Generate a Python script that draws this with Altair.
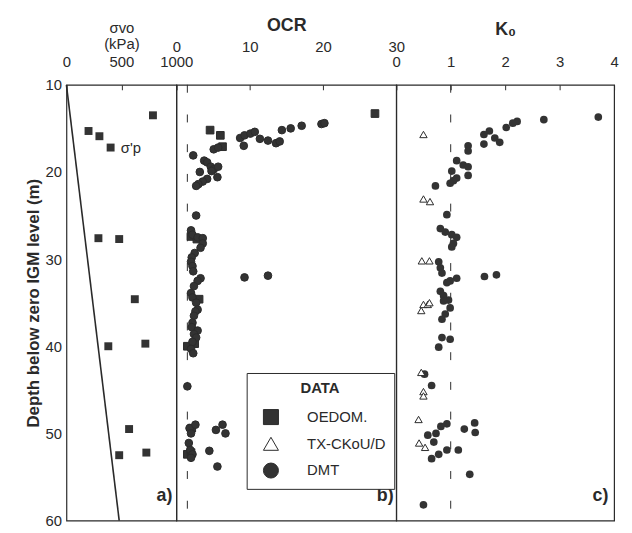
import altair as alt
import pandas as pd

# ---------------- data ----------------
# panel a: effective vertical stress line and oedometer preconsolidation stress
line_depth = [10, 60]
line_sigma_vo = [0, 480]

oed_depth = [13.5, 15.3, 15.9, 17.2, 27.6, 27.7, 34.6, 40.0, 39.7, 49.5, 52.5, 52.2]
oed_sigma_p = [787, 201, 300, 402, 291, 480, 622, 381, 718, 570, 480, 727]

# panel b: OCR
ocr_oed_depth = [13.3, 15.2, 15.8, 17.1, 27.4, 27.7, 34.6, 40.0, 39.7, 49.4, 52.4, 52.2]
ocr_oed = [27.1, 4.6, 6.0, 6.3, 2.0, 2.8, 3.1, 1.5, 2.5, 2.1, 1.5, 2.0]

ocr_dmt_depth = [18.1, 16.1, 15.8, 15.6, 15.4, 17.0, 16.2, 16.4, 16.7, 16.5, 15.2, 15.0, 14.7, 14.5, 14.4,
                 17.4, 17.2, 18.7, 18.9, 19.4, 19.7, 19.4, 19.9, 20.0, 20.6, 20.8, 21.1, 21.4, 21.6,
                 25.0, 26.7, 27.2, 27.5, 27.6, 28.2, 28.7, 29.3, 29.8, 30.3, 30.8, 31.4, 32.2, 32.5, 33.1,
                 32.1, 31.9, 33.9, 34.4, 35.0, 35.8, 36.0, 36.5, 37.3, 37.8, 38.2, 38.6, 39.0, 39.5, 40.3,
                 40.8, 44.6, 49.4, 49.0, 50.0, 51.1, 51.9, 52.4, 52.8, 49.6, 49.0, 50.0, 52.0, 53.8]
ocr_dmt = [2.3, 8.7, 9.3, 10.1, 10.7, 9.2, 11.4, 12.5, 13.6, 14.1, 14.4, 15.6, 17.1, 19.8, 20.2,
           5.1, 5.7, 3.8, 4.2, 4.7, 5.1, 5.7, 4.8, 3.2, 5.6, 4.2, 3.6, 3.0, 2.7,
           2.7, 2.0, 2.2, 2.9, 3.6, 3.6, 3.3, 2.5, 2.1, 2.0, 2.2, 2.3, 3.3, 2.9, 2.4,
           9.3, 12.5, 2.0, 2.2, 2.7, 2.9, 2.6, 2.4, 2.2, 2.1, 2.9, 2.4, 2.7, 2.2, 2.0,
           2.3, 1.5, 1.8, 2.6, 2.0, 1.7, 1.9, 2.2, 2.0, 5.4, 6.3, 6.7, 4.5, 5.6]

# panel c: K0
k0_tx_depth = [15.7, 23.1, 23.4, 30.2, 30.2, 35.2, 35.2, 35.0, 35.9, 43.0, 45.2, 45.7, 48.4, 51.1, 51.6]
k0_tx = [0.50, 0.50, 0.62, 0.47, 0.61, 0.50, 0.58, 0.61, 0.46, 0.46, 0.50, 0.50, 0.41, 0.42, 0.53]

k0_dmt_depth = [13.7, 14.0, 14.2, 14.4, 14.9, 15.3, 15.7, 16.1, 16.6, 16.8, 17.0, 17.6, 18.7, 19.2, 19.4,
                19.9, 20.4, 20.7, 21.0, 21.3, 21.6, 24.9, 26.5, 26.9, 27.2, 27.5, 28.2, 28.6, 30.3, 31.0,
                31.6, 32.2, 32.5, 32.7, 32.0, 31.8, 33.7, 34.2, 34.7, 34.8, 35.6, 36.3, 36.9, 39.0, 39.2,
                40.1, 43.2, 44.5, 48.9, 49.2, 50.0, 50.2, 51.0, 51.9, 52.4, 52.9, 49.5, 48.8, 49.9, 51.9,
                54.7, 58.2]
k0_dmt = [3.71, 2.71, 2.22, 2.14, 2.02, 1.71, 1.61, 1.81, 1.90, 1.61, 1.32, 1.32, 1.11, 1.23, 1.32,
          1.02, 1.32, 1.11, 1.05, 0.99, 0.72, 0.93, 0.81, 0.90, 1.02, 1.11, 1.05, 1.02, 0.78, 0.81,
          0.84, 1.11, 0.99, 0.93, 1.62, 1.84, 0.81, 0.87, 0.96, 0.87, 0.99, 0.90, 0.84, 0.84, 0.99,
          0.78, 0.52, 0.65, 0.93, 0.82, 0.73, 0.58, 0.69, 0.93, 0.78, 0.65, 1.25, 1.44, 1.45, 1.14,
          1.35, 0.50]

series_names = ["OEDOM.", "TX-CKoU/D", "DMT"]
series_shapes = ["square", "triangle-up", "circle"]
series_fills = ["#333333", "#ffffff", "#333333"]

panel_tags = ["a)", "b)", "c)"]

# ---------------- style ----------------
FONT = "Liberation Sans"
INK = "#2a2a2a"
H = 440
depth_scale = alt.Scale(domain=[10, 60], reverse=True, nice=False, zero=False)


def top_axis(values, title, label_pad, title_y, title_size, title_weight, title_baseline="middle"):
    return alt.Axis(orient="top", values=values, title=title, format="d", grid=False, domain=False,
                    ticks=True, tickSize=5, offset=-5, tickColor=INK, labelPadding=label_pad,
                    labelFlush=False, labelOverlap=False, labelFontSize=15, labelFont=FONT,
                    labelColor=INK, titleFont=FONT, titleFontSize=title_size,
                    titleFontWeight=title_weight, titleColor=INK, titleY=title_y,
                    titleBaseline=title_baseline, titleLineHeight=16)


# ---------------- panel a ----------------
df_line = pd.DataFrame({"depth": line_depth, "sigma": line_sigma_vo})
df_oed = pd.DataFrame({"depth": oed_depth, "sigma": oed_sigma_p})
xa = alt.Scale(domain=[0, 1000], nice=False, zero=False)

a_line = alt.Chart(df_line).mark_line(color=INK, strokeWidth=1.6).encode(
    x=alt.X("sigma:Q", scale=xa,
            axis=top_axis([0, 500, 1000], ["σvo", "(kPa)"], 15, -70, 15, "normal", "top")),
    y=alt.Y("depth:Q", scale=depth_scale,
            axis=alt.Axis(values=[10, 20, 30, 40, 50, 60], title="Depth below zero IGM level (m)",
                          grid=False, domain=False, ticks=False, labelPadding=5,
                          labelFontSize=15, labelFont=FONT, labelColor=INK,
                          titleFont=FONT, titleFontSize=17, titleFontWeight="bold",
                          titleColor=INK, titlePadding=3)),
)
a_pts = alt.Chart(df_oed).mark_point(shape="square", filled=True, color="#333333", size=64,
                                     opacity=1).encode(x="sigma:Q", y="depth:Q")
a_note = alt.Chart(pd.DataFrame({"sigma": [495], "depth": [17.3], "t": ["σ'p"]})).mark_text(
    align="left", baseline="middle", font=FONT, fontSize=15, color=INK).encode(
    x="sigma:Q", y="depth:Q", text="t:N")
a_tag = alt.Chart(pd.DataFrame({"sigma": [892], "depth": [57.2], "t": [panel_tags[0]]})).mark_text(
    align="center", baseline="middle", font=FONT, fontSize=18, fontWeight="bold", color=INK).encode(
    x="sigma:Q", y="depth:Q", text="t:N")
panel_a = alt.layer(a_line, a_pts, a_note, a_tag).properties(width=111, height=H)

# ---------------- panel b ----------------
df_b = pd.concat([
    pd.DataFrame({"depth": ocr_oed_depth, "ocr": ocr_oed, "type": "OEDOM."}),
    pd.DataFrame({"depth": ocr_dmt_depth, "ocr": ocr_dmt, "type": "DMT"}),
])
xb = alt.Scale(domain=[0, 30], nice=False, zero=False)
legend = alt.Legend(title="DATA", orient="none", legendX=71, legendY=291,
                    strokeColor=INK, fillColor="white", padding=8, titleAnchor="middle",
                    titleFont=FONT, titleFontSize=15, titleFontWeight="bold", titleColor=INK,
                    titlePadding=13, labelFont=FONT, labelFontSize=15, labelColor=INK,
                    labelOffset=28, symbolOffset=8, symbolSize=230, rowPadding=7,
                    symbolStrokeWidth=1)

b_rule = alt.Chart(pd.DataFrame({"ocr": [1.5]})).mark_rule(
    color=INK, strokeWidth=1, strokeDash=[8, 22]).encode(x=alt.X("ocr:Q", scale=xb))
b_pts = alt.Chart(df_b).mark_point(filled=True, size=60, opacity=1, strokeWidth=1).encode(
    x=alt.X("ocr:Q", scale=xb,
            axis=top_axis([0, 5, 10, 15, 20, 25, 30], "OCR", 31, -65, 18, "bold")),
    y=alt.Y("depth:Q", scale=depth_scale, axis=None),
    shape=alt.Shape("type:N", scale=alt.Scale(domain=series_names, range=series_shapes),
                    legend=legend),
    fill=alt.Fill("type:N", scale=alt.Scale(domain=series_names, range=series_fills),
                  legend=legend),
    stroke=alt.Stroke("type:N", scale=alt.Scale(domain=series_names, range=[INK, INK, INK]),
                      legend=legend),
)
b_tag = alt.Chart(pd.DataFrame({"ocr": [28.5], "depth": [57.2], "t": [panel_tags[1]]})).mark_text(
    align="center", baseline="middle", font=FONT, fontSize=18, fontWeight="bold", color=INK).encode(
    x="ocr:Q", y="depth:Q", text="t:N")
panel_b = alt.layer(b_rule, b_pts, b_tag).properties(width=222, height=H)

# ---------------- panel c ----------------
df_tx = pd.DataFrame({"depth": k0_tx_depth, "k0": k0_tx})
df_dmt = pd.DataFrame({"depth": k0_dmt_depth, "k0": k0_dmt})
xc = alt.Scale(domain=[0, 4], nice=False, zero=False)

c_rule = alt.Chart(pd.DataFrame({"k0": [1.0]})).mark_rule(
    color=INK, strokeWidth=1, strokeDash=[8, 22]).encode(
    x=alt.X("k0:Q", scale=xc, axis=top_axis([0, 1, 2, 3, 4], "K₀", 15, -61, 18, "bold")))
c_dmt = alt.Chart(df_dmt).mark_point(shape="circle", filled=True, color="#333333", size=60,
                                     opacity=1).encode(
    x="k0:Q", y=alt.Y("depth:Q", scale=depth_scale, axis=None))
c_tx = alt.Chart(df_tx).mark_point(shape="triangle-up", filled=True, fill="white", stroke=INK,
                                   strokeWidth=1, size=55, opacity=1).encode(
    x="k0:Q", y=alt.Y("depth:Q", scale=depth_scale, axis=None))
c_tag = alt.Chart(pd.DataFrame({"k0": [3.75], "depth": [57.2], "t": [panel_tags[2]]})).mark_text(
    align="center", baseline="middle", font=FONT, fontSize=18, fontWeight="bold", color=INK).encode(
    x="k0:Q", y="depth:Q", text="t:N")
panel_c = alt.layer(c_rule, c_dmt, c_tx, c_tag).properties(width=220, height=H)

chart = alt.hconcat(panel_a, panel_b, panel_c, spacing=0, bounds="flush").resolve_scale(
    x="independent", shape="independent", fill="independent", stroke="independent").resolve_legend(
    shape="independent", fill="independent", stroke="independent").properties(
    padding={"left": 15, "top": 5, "right": 5, "bottom": 0}, background="white").configure_view(
    stroke=INK, strokeWidth=1.2)

chart.save("out.html", embed_options={"renderer": "svg", "actions": False})
